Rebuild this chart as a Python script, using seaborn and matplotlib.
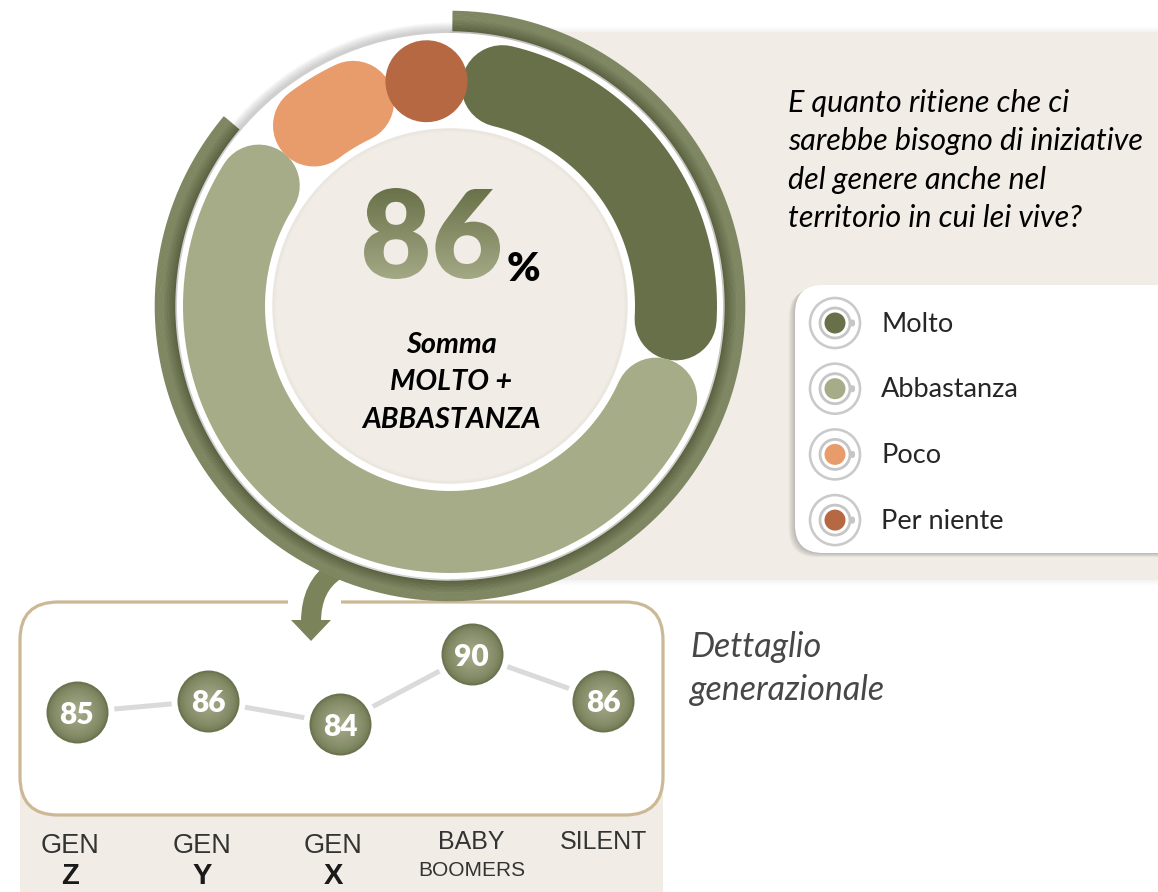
import numpy as np
import pandas as pd
import matplotlib
matplotlib.use("Agg")
import matplotlib.pyplot as plt
import seaborn as sns
from matplotlib.patches import Circle, FancyBboxPatch, Rectangle, Polygon, PathPatch
from matplotlib.path import Path
from matplotlib.textpath import TextPath
from matplotlib.font_manager import FontProperties
from matplotlib.transforms import Affine2D, blended_transform_factory
from matplotlib.colors import LinearSegmentedColormap, to_rgb

# ---------------- data ----------------
answers = ["Molto", "Abbastanza", "Poco", "Per niente"]
answer_shares = [28, 58, 9, 5]
answer_colors = ["#68704A", "#A6AB88", "#E89C6C", "#B66843"]

question_lines = [
    "E quanto ritiene che ci",
    "sarebbe bisogno di iniziative",
    "del genere anche nel",
    "territorio in cui lei vive?",
]
summary_lines = ["Somma", "MOLTO +", "ABBASTANZA"]

gen_line1 = ["GEN", "GEN", "GEN", "BABY", "SILENT"]
gen_line2 = ["Z", "Y", "X", "BOOMERS", ""]
gen_values = [85, 86, 84, 90, 86]

detail_title = ["Dettaglio", "generazionale"]

positive_total = answer_shares[0] + answer_shares[1]

# ---------------- style ----------------
sns.set_theme(style="white")
plt.rcParams["font.family"] = ["Lato", "DejaVu Sans"]

W, H = 1158, 892
PX = 0.72                      # points per pixel at dpi 100
BEIGE = "#F1EDE6"
OLIVE_ARROW = "#7B835A"
TAN = "#CDB895"
TEXT = "#262626"

fig = plt.figure(figsize=(W / 100, H / 100), dpi=100)
fig.patch.set_facecolor("white")

# background canvas in pixel units (y grows downward)
bg = fig.add_axes([0, 0, 1, 1])
bg.set_xlim(0, W)
bg.set_ylim(H, 0)
bg.axis("off")

CX, CY = 450, 306

# ---- right beige panel with soft shadow ----
for k in range(5):
    a = 0.05 * (5 - k) / 5
    bg.add_patch(Rectangle((450, 31 - k), 720, 1.2, fc="k", ec="none", alpha=a, zorder=1))
    bg.add_patch(Rectangle((450, 580 + k), 720, 1.2, fc="k", ec="none", alpha=a, zorder=1))
bg.add_patch(Rectangle((450, 32), 720, 548, fc=BEIGE, ec="none", zorder=1.5))

# ---- legend card ----
for k in range(7, 0, -1):
    bg.add_patch(FancyBboxPatch((795 - k * 0.9, 285 + k * 0.6), 420, 268,
                                boxstyle="round,pad=0,rounding_size=28",
                                fc="k", ec="none", alpha=0.035, zorder=2))
bg.add_patch(FancyBboxPatch((795, 285), 420, 268,
                            boxstyle="round,pad=0,rounding_size=28",
                            fc="white", ec="none", zorder=2.5))

leg_x, leg_y0, leg_dy = 835, 323, 65.7
for i, (name, col) in enumerate(zip(answers, answer_colors)):
    y = leg_y0 + i * leg_dy
    bg.add_patch(Circle((leg_x, y), 25, fc="white", ec="#CACACA", lw=2.6 * PX, zorder=3))
    bg.add_patch(FancyBboxPatch((leg_x + 12, y - 3.5), 8, 7,
                                boxstyle="round,pad=0,rounding_size=2.5",
                                fc="#C6C6C6", ec="none", zorder=3.1))
    bg.add_patch(Circle((leg_x, y), 15, fc="white", ec="#C6C6C6", lw=2.8 * PX, zorder=3.2))
    bg.add_patch(Circle((leg_x, y), 10.5, fc=col, ec="none", zorder=3.3))
    bg.text(881, y + 1, name, fontsize=19.5, color=TEXT, va="center", ha="left", zorder=4)

# ---- question ----
for i, line in enumerate(question_lines):
    bg.text(788, 112 + i * 38.4, line, fontsize=22, style="italic", color="black",
            va="baseline", ha="left", zorder=4)

# ---- white disc behind the donut, with shadow ----
for k in range(9, 0, -1):
    bg.add_patch(Circle((CX - 1.5, CY - 1.5), 273 + k, fc="k", ec="none", alpha=0.022, zorder=3))
bg.add_patch(Circle((CX, CY), 273, fc="white", ec="none", zorder=3.5))

# inner beige disc with a faint inner shade
bg.add_patch(Circle((CX, CY), 177.5, fc=BEIGE, ec="none", zorder=3.6))
for k in range(4):
    bg.add_patch(Circle((CX, CY), 177.5 - k, fc="none", ec="#8a8070",
                        lw=1.1 * PX, alpha=0.07 * (4 - k) / 4, zorder=3.7))

# big gradient percentage
fp_big = FontProperties(family="Lato", weight="heavy")
tp = TextPath((0, 0), str(positive_total), size=100, prop=fp_big)
ext = tp.get_extents()
bx0, bx1, by0, by1 = 364, 500, 188, 279
tr = (Affine2D().translate(-ext.x0, -ext.y0)
      .scale((bx1 - bx0) / ext.width, -(by1 - by0) / ext.height)
      .translate(bx0, by1))
big_patch = PathPatch(tr.transform_path(tp), fc="none", ec="none", zorder=4)
bg.add_patch(big_patch)
grad = np.linspace(0, 1, 256).reshape(-1, 1)
grad_cmap = LinearSegmentedColormap.from_list("olive_grad", ["#687048", "#A5AA86"])
im = bg.imshow(grad, extent=(bx0 - 4, bx1 + 4, by1 + 2, by0 - 2), origin="upper",
               cmap=grad_cmap, aspect="auto", zorder=4, interpolation="bilinear")
im.set_clip_path(big_patch)
bg.text(507, 281, "%", fontsize=29, fontweight="heavy", color="black",
        ha="left", va="baseline", zorder=4)

for i, line in enumerate(summary_lines):
    bg.text(451, 345 + i * 37.5, line, fontsize=20.8, fontweight="bold", style="italic",
            color="black", ha="center", va="center", zorder=4)

# ---- lower panel ----
bg.add_patch(FancyBboxPatch((20, 700), 643, 260, boxstyle="round,pad=0,rounding_size=36",
                            fc=BEIGE, ec="none", zorder=1))
bg.add_patch(FancyBboxPatch((20, 602), 643, 213, boxstyle="round,pad=0,rounding_size=38",
                            fc="white", ec=TAN, lw=3.2 * PX, zorder=1.2))
bg.add_patch(Rectangle((288, 597), 53, 10, fc="white", ec="none", zorder=1.3))

# curved pointer from the ring down to the generations panel
shaft = Path([(336, 570), (311, 586), (311, 622)], [Path.MOVETO, Path.CURVE3, Path.CURVE3])
bg.add_patch(PathPatch(shaft, fc="none", ec=OLIVE_ARROW, lw=20 * PX, capstyle="butt", zorder=2))
bg.add_patch(Polygon([(291, 620), (331, 620), (311, 641)], closed=True,
                     fc=OLIVE_ARROW, ec="none", zorder=2))

for i, line in enumerate(detail_title):
    bg.text(690, 647 + i * 43, line, fontsize=24.5, style="italic", fontweight="normal",
            color="#474747", ha="left", va="center", zorder=4)

bg.set_xlim(0, W)
bg.set_ylim(H, 0)

# ---------------- donut (polar axes, radius in pixels) ----------------
R = 300
pax = fig.add_axes([(CX - R) / W, (H - CY - R) / H, 2 * R / W, 2 * R / H], projection="polar")
pax.set_theta_zero_location("N")
pax.set_theta_direction(-1)
pax.set_ylim(0, R)
pax.axis("off")
pax.patch.set_alpha(0)

# outer olive ring with a darker inner edge
ring_th = np.deg2rad(np.linspace(0.5, 310, 400))
ring_in, ring_out = np.array(to_rgb("#596040")), np.array(to_rgb("#7E8662"))
n_band = 12
for j in range(n_band):
    t = (j + 0.5) / n_band
    col = ring_in + (ring_out - ring_in) * min(1, t * 1.6)
    pax.plot(ring_th, np.full_like(ring_th, 275 + t * 20), color=col,
             lw=(20 / n_band + 0.6) * PX, solid_capstyle="butt")

# answer segments: each occupies its share of the circle, drawn with round ends
seg_r, seg_w = 226, 82
cap_deg = np.rad2deg((seg_w / 2) / seg_r)
start_deg = 3.0
cum = start_deg
for share, col in zip(answer_shares, answer_colors):
    span = share * 3.6
    a0, a1 = cum + cap_deg, cum + span - cap_deg
    if a1 <= a0:
        mid = cum + span / 2
        a0, a1 = mid, mid + 0.05
    th = np.deg2rad(np.linspace(a0, a1, 200))
    pax.plot(th, np.full_like(th, seg_r), color=col, lw=seg_w * PX, solid_capstyle="round")
    cum += span

# ---------------- generations line chart ----------------
lax = fig.add_axes([10.75 / W, (H - 794) / H, 658.5 / W, 175 / H])
lax.set_xlim(-0.5, 4.5)
lax.set_ylim(78, 93)
lax.axis("off")
lax.patch.set_alpha(0)

gen_df = pd.DataFrame({"pos": np.arange(len(gen_values)), "value": gen_values})
sns.lineplot(data=gen_df, x="pos", y="value", color="#DADADA", lw=5 * PX, ax=lax,
             solid_capstyle="butt")
# white halo so the line stops short of each bubble
sns.scatterplot(data=gen_df, x="pos", y="value", s=(74 * PX) ** 2, color="white",
                linewidth=0, ax=lax, zorder=3)
edge_c, center_c = np.array(to_rgb("#6C744F")), np.array(to_rgb("#A3A886"))
for t in np.linspace(0, 1, 14):
    d = 62 * (1 - 0.9 * t)
    col = edge_c + (center_c - edge_c) * (t ** 0.6)
    sns.scatterplot(data=gen_df, x="pos", y="value", s=(d * PX) ** 2, color=col,
                    linewidth=0, ax=lax, zorder=4)
for i, v in enumerate(gen_values):
    lax.text(i, v, str(v), ha="center", va="center_baseline", color="white",
             fontsize=21.5, fontweight="heavy", zorder=5)
lax.set_xlim(-0.5, 4.5)
lax.set_ylim(78, 93)

# generation names under the panel
lab_tr = blended_transform_factory(lax.transData, bg.transData)
label_shift = [-0.05, -0.05, -0.05, 0.0, 0.0]
narrow = ["Liberation Sans Narrow", "Liberation Sans", "DejaVu Sans"]
for i, (l1, l2) in enumerate(zip(gen_line1, gen_line2)):
    x = i + label_shift[i]
    if l1 == "GEN":
        lax.text(x, 846, l1, transform=lab_tr, ha="center", va="center", fontsize=19.5,
                 color="#333333", family=narrow)
        lax.text(x, 890, l2, transform=lab_tr, ha="center", va="bottom", fontsize=21,
                 fontweight="bold", color="#1A1A1A", family=["Liberation Sans", "DejaVu Sans"])
    else:
        lax.text(x, 842, l1, transform=lab_tr, ha="center", va="center", fontsize=18,
                 color="#333333", family=narrow)
        if l2:
            lax.text(x, 870, l2, transform=lab_tr, ha="center", va="center", fontsize=15,
                     color="#333333", family=narrow)

fig.savefig("out.png", dpi=100)
